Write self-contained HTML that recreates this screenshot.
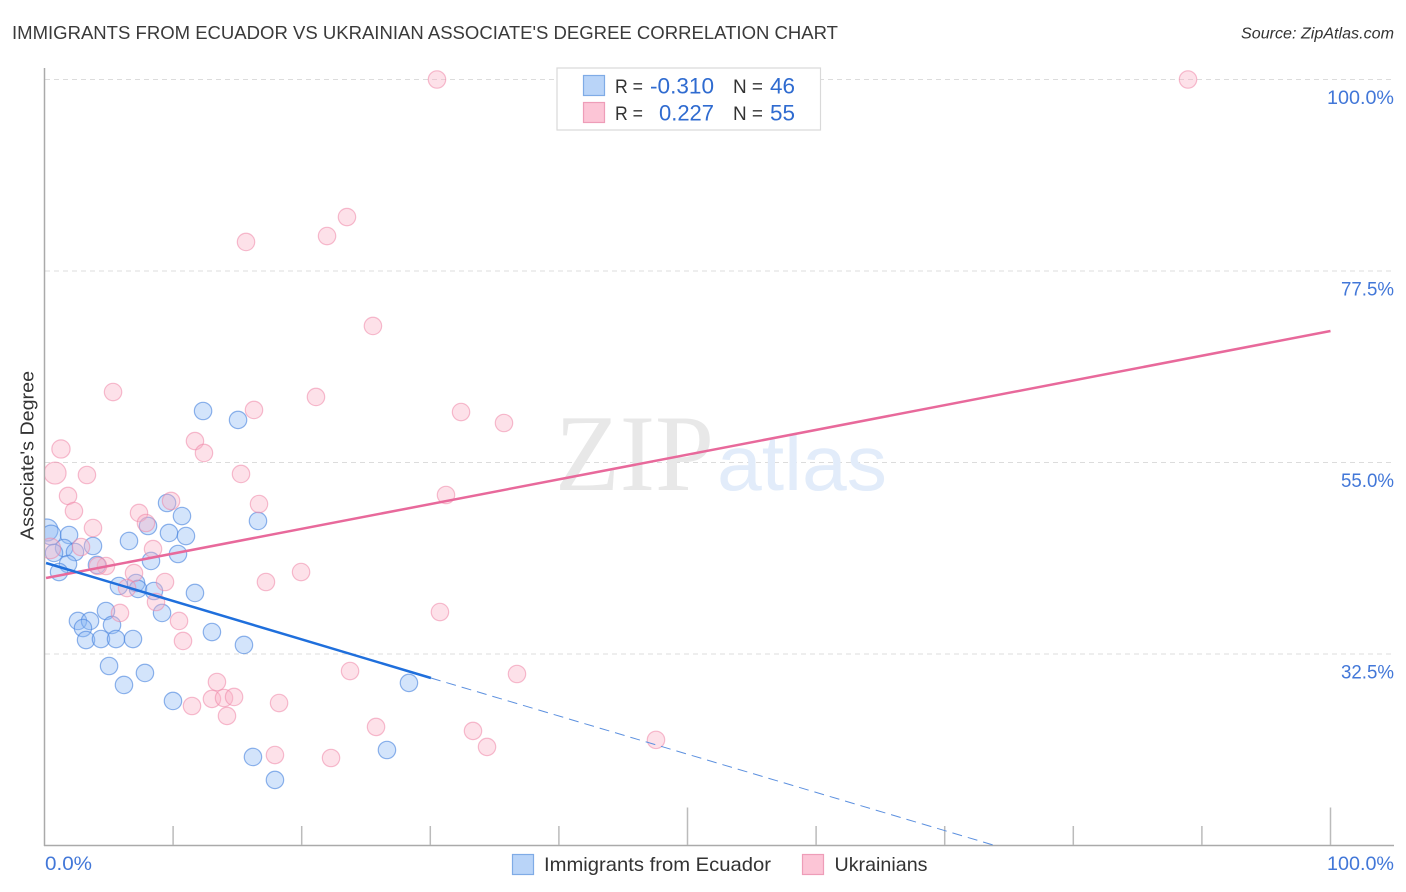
<!DOCTYPE html>
<html lang="en">
<head>
<meta charset="utf-8">
<title>Immigrants from Ecuador vs Ukrainian Associate's Degree Correlation Chart</title>
<style>
html,body{margin:0;padding:0;background:#fff;width:1406px;height:892px;overflow:hidden}
svg{display:block;font-family:"Liberation Sans",sans-serif}
</style>
</head>
<body>
<svg id="chart" xmlns="http://www.w3.org/2000/svg" width="1406" height="892" viewBox="0 0 1406 892">
  <defs>
    <clipPath id="plot-clip"><rect x="45" y="60" width="1350" height="786"/></clipPath>
  </defs>
  <rect x="0" y="0" width="1406" height="892" fill="#ffffff"/>
  <text x="12" y="39" font-size="18.5" fill="#3a3a3a" textLength="826" lengthAdjust="spacingAndGlyphs">IMMIGRANTS FROM ECUADOR VS UKRAINIAN ASSOCIATE'S DEGREE CORRELATION CHART</text>
  <text x="1394" y="38.5" font-size="15.5" font-style="italic" fill="#333333" text-anchor="end" textLength="153" lengthAdjust="spacingAndGlyphs">Source: ZipAtlas.com</text>

  <g id="grid"></g>

  <g>
    <text x="555" y="490" font-family="'Liberation Serif',serif" font-size="109" fill="#e8e8e8" textLength="159" lengthAdjust="spacingAndGlyphs">ZIP</text>
    <text x="717" y="490" font-size="78" fill="#e2ecfa" textLength="170" lengthAdjust="spacingAndGlyphs">atlas</text>
  </g>

  <g id="axes">
    <line x1="44.5" y1="68" x2="44.5" y2="846" stroke="#aaaaaa" stroke-width="1.5"/>
    <line x1="44" y1="845.5" x2="1394" y2="845.5" stroke="#aaaaaa" stroke-width="1.5"/>
  </g>
  <g id="x-ticks"></g>
  <g id="y-labels"></g>
  <g id="x-labels"></g>

  <g clip-path="url(#plot-clip)">
    <g id="points-blue"></g>
    <g id="points-pink"></g>
    <g id="trends"></g>
  </g>

  <text x="0" y="0" transform="translate(33.5 455.5) rotate(-90)" font-size="18" fill="#333333" text-anchor="middle" textLength="169" lengthAdjust="spacingAndGlyphs">Associate's Degree</text>

  <g>
    <rect x="557" y="68" width="263.5" height="62" fill="#ffffff" stroke="#d9d9d9" stroke-width="1.2"/>
    <rect x="583.5" y="75.5" width="21" height="20" fill="#b9d4f8" stroke="#7fabe6" stroke-width="1.2"/>
    <rect x="583.5" y="102.5" width="21" height="20" fill="#fcc5d6" stroke="#ee9db8" stroke-width="1.2"/>
    <text x="615" y="93" font-size="19" fill="#333333" textLength="28" lengthAdjust="spacingAndGlyphs">R =</text>
    <text x="714" y="93.5" font-size="22" fill="#2f6bd0" text-anchor="end" textLength="64" lengthAdjust="spacingAndGlyphs">-0.310</text>
    <text x="733" y="93" font-size="19" fill="#333333" textLength="30" lengthAdjust="spacingAndGlyphs">N =</text>
    <text x="795" y="93.5" font-size="22" fill="#2f6bd0" text-anchor="end" textLength="25" lengthAdjust="spacingAndGlyphs">46</text>
    <text x="615" y="120" font-size="19" fill="#333333" textLength="28" lengthAdjust="spacingAndGlyphs">R =</text>
    <text x="714" y="120.5" font-size="22" fill="#2f6bd0" text-anchor="end" textLength="55" lengthAdjust="spacingAndGlyphs">0.227</text>
    <text x="733" y="120" font-size="19" fill="#333333" textLength="30" lengthAdjust="spacingAndGlyphs">N =</text>
    <text x="795" y="120.5" font-size="22" fill="#2f6bd0" text-anchor="end" textLength="25" lengthAdjust="spacingAndGlyphs">55</text>
  </g>

  <g>
    <rect x="512.5" y="854.5" width="21" height="20" fill="#b9d4f8" stroke="#7fabe6" stroke-width="1.2"/>
    <text x="544" y="871" font-size="19.5" fill="#333333" textLength="227" lengthAdjust="spacingAndGlyphs">Immigrants from Ecuador</text>
    <rect x="802.5" y="854.5" width="21" height="20" fill="#fcc5d6" stroke="#ee9db8" stroke-width="1.2"/>
    <text x="834.5" y="871" font-size="19.5" fill="#333333" textLength="93" lengthAdjust="spacingAndGlyphs">Ukrainians</text>
  </g>
</svg>

<script>
// ---- chart data (percent values) ----
const xTickValues = [10, 20, 30, 40, 50, 60, 70, 80, 90, 100];
const xMajorTicks = [50, 100];
const yGridValues = [100, 77.5, 55, 32.5];
const xLabelValues = [0, 100];

const ecuadorX = [0.19,0.51,1.91,1.52,2.37,0.74,3.77,1.83,1.13,4.08,6.57,8.05,8.28,5.79,7.12,7.27,8.51,9.53,10.69,9.68,11.0,10.38,16.6,11.7,2.6,3.54,2.99,4.78,5.25,3.23,4.39,5.56,6.88,9.14,13.02,15.51,5.02,7.81,6.18,9.99,12.33,15.05,28.34,26.63,16.21,17.92];
const ecuadorY = [47.07,46.48,46.48,44.95,44.48,44.37,45.19,43.07,42.13,42.96,45.78,47.54,43.43,40.49,40.84,40.14,39.9,50.24,48.71,46.72,46.36,44.25,48.13,39.67,36.38,36.38,35.55,37.55,35.91,34.14,34.26,34.26,34.26,37.32,35.08,33.56,31.09,30.27,28.86,26.98,61.05,60.0,29.1,21.22,20.4,17.7];
const ecuadorWeight = [1.6,1.3,1,1,1,1,1,1,1,1,1,1,1,1,1,1,1,1,1,1,1,1,1,1,1,1,1,1,1,1,1,1,1,1,1,1,1,1,1,1,1,1,1,1,1,1];

const ukrainianX = [30.52,88.92,23.52,21.97,15.67,25.54,5.33,21.11,16.29,32.39,35.73,11.7,12.4,1.28,0.82,3.3,15.28,1.83,9.84,31.22,16.68,2.29,7.35,7.89,3.77,2.84,8.44,0.45,4.78,4.16,6.96,19.95,17.22,9.37,6.42,8.67,5.87,10.46,30.75,10.77,36.74,23.76,13.41,13.02,13.96,14.74,18.24,11.47,14.19,25.78,33.32,34.41,47.55,17.92,22.28];
const ukrainianY = [100,100,83.84,81.61,80.91,71.04,63.28,62.7,61.17,60.93,59.64,57.52,56.12,56.59,53.76,53.53,53.65,51.07,50.48,51.18,50.12,49.3,49.07,47.89,47.3,45.07,44.83,44.9,42.84,42.84,42.01,42.13,40.96,40.96,40.25,38.61,37.32,36.38,37.43,34.03,30.15,30.5,29.21,27.22,27.33,27.45,26.74,26.39,25.22,23.93,23.46,21.58,22.41,20.63,20.28];
const ukrainianWeight = [1,1,1,1,1,1,1,1,1,1,1,1,1,1.1,1.6,1,1,1,1,1,1,1,1,1,1,1,1,1.4,1,1,1,1,1,1,1,1,1,1,1,1,1,1,1,1,1,1,1,1,1,1,1,1,1,1,1];

const ecuadorTrendX = [0.12, 30.05];
const ecuadorTrendY = [43.19, 29.68];
const ecuadorForecastX = [30.05, 73.9];
const ecuadorForecastY = [29.68, 10];
const ukrainianTrendX = [0.12, 100];
const ukrainianTrendY = [41.43, 70.45];

// ---- axis functions ----
const xScale = function (v) { return 44.5 + v * 12.86; };
const yScale = function (v) { return 79.5 + (100 - v) * 8.511; };
const SVGNS = 'http://www.w3.org/2000/svg';
const fmt = function (v) { return v.toFixed(1) + '%'; };

function make(tag, attrs, parent) {
  const el = document.createElementNS(SVGNS, tag);
  for (const k in attrs) { el.setAttribute(k, attrs[k]); }
  parent.appendChild(el);
  return el;
}

// gridlines and y labels
yGridValues.forEach(function (v) {
  const g = make('line', { x1: 45, x2: 1394, y1: yScale(v), y2: yScale(v), stroke: '#dcdcdc', 'stroke-width': 1, 'stroke-dasharray': '5 4' }, document.getElementById('grid'));
  
  
  const t = make('text', { x: 1394, y: yScale(v) + 24.5, 'font-size': 19, fill: '#4277d8', 'text-anchor': 'end', textLength: v === 100 ? 67 : 53, lengthAdjust: 'spacingAndGlyphs' }, document.getElementById('y-labels'));
  t.textContent = fmt(v);
  
  
});

// x ticks
xTickValues.forEach(function (v) {
  const top = xMajorTicks.indexOf(v) >= 0 ? 807.5 : 826;
  const l = make('line', { x1: xScale(v), x2: xScale(v), y1: top, y2: 845, stroke: '#bbbbbb', 'stroke-width': 1.5 }, document.getElementById('x-ticks'));
  
  
});

// x labels
xLabelValues.forEach(function (v) {
  const anchorStart = v === 0;
  const t = make('text', { x: anchorStart ? 45 : 1394, y: 870, 'font-size': 19, fill: '#4277d8', 'text-anchor': anchorStart ? 'start' : 'end', textLength: anchorStart ? 47 : 67, lengthAdjust: 'spacingAndGlyphs' }, document.getElementById('x-labels'));
  t.textContent = fmt(v);
  
  
});

// scatter points
ecuadorX.forEach(function (v, i) {
  const c = make('circle', { cx: xScale(v), cy: yScale(ecuadorY[i]), r: 8.7 * Math.sqrt(ecuadorWeight[i]), fill: 'rgba(140,185,245,0.38)', stroke: 'rgba(70,130,222,0.6)', 'stroke-width': 1.2 }, document.getElementById('points-blue'));
  
  
});
ukrainianX.forEach(function (v, i) {
  const c = make('circle', { cx: xScale(v), cy: yScale(ukrainianY[i]), r: 8.7 * Math.sqrt(ukrainianWeight[i]), fill: 'rgba(250,175,198,0.38)', stroke: 'rgba(238,135,168,0.55)', 'stroke-width': 1.2 }, document.getElementById('points-pink'));
  
  
});

// trend lines
const trends = document.getElementById('trends');
const pinkLine = make('line', { x1: xScale(ukrainianTrendX[0]), y1: yScale(ukrainianTrendY[0]), x2: xScale(ukrainianTrendX[1]), y2: yScale(ukrainianTrendY[1]), stroke: '#e8699b', 'stroke-width': 2.5 }, trends);


const blueLine = make('line', { x1: xScale(ecuadorTrendX[0]), y1: yScale(ecuadorTrendY[0]), x2: xScale(ecuadorTrendX[1]), y2: yScale(ecuadorTrendY[1]), stroke: '#1f6fdc', 'stroke-width': 2.5 }, trends);


const blueDash = make('line', { x1: xScale(ecuadorForecastX[0]), y1: yScale(ecuadorForecastY[0]), x2: xScale(ecuadorForecastX[1]), y2: yScale(ecuadorForecastY[1]), stroke: '#5c90df', 'stroke-width': 1, 'stroke-dasharray': '10 6' }, trends);


</script>
</body>
</html>
